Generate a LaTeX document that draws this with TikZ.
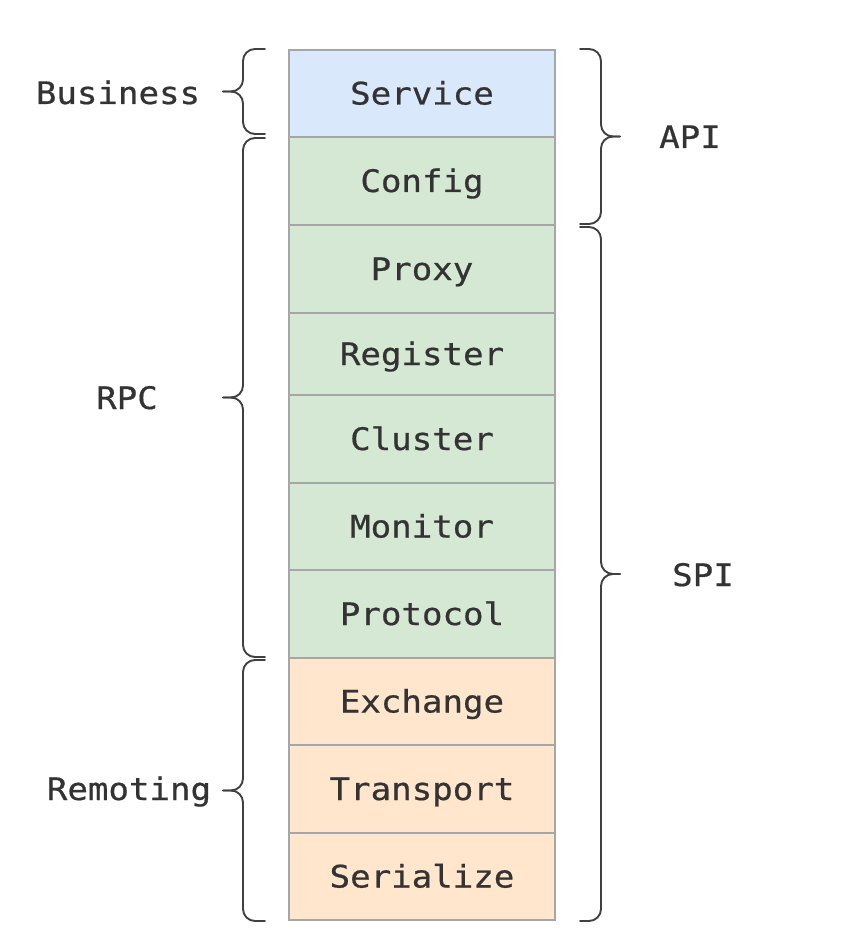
\documentclass[tikz,border=0pt]{standalone}
\usepackage{fontspec}
\newfontfamily\monof[FakeStretch=1.1, FakeBold=0.6]{DejaVu Sans Mono}
\definecolor{bluef}{HTML}{DAE8FC}
\definecolor{greenf}{HTML}{D5E8D4}
\definecolor{orangef}{HTML}{FFE6CC}
\definecolor{rowline}{HTML}{A6A6A6}
\definecolor{txt}{HTML}{333333}
\definecolor{brcol}{HTML}{404040}
\tikzset{
  row/.style={draw=rowline, line width=1.6pt, minimum width=266pt, inner sep=0pt,
    text=txt, font=\monof\fontsize{31}{36}\selectfont, text height=22pt, text depth=0pt},
  lbl/.style={inner sep=0pt, text=txt, font=\monof\fontsize{31}{36}\selectfont,
    text height=22pt, text depth=0pt},
  brc/.style={draw=brcol, line width=1.9pt, rounded corners=12pt, line cap=round}
}
\newcommand\BraceLeft[2]{%
  \draw[brc] (265,#1) -- (243,#1) -- (243,{(#1+#2)/2}) -- (223,{(#1+#2)/2});
  \draw[brc] (223,{(#1+#2)/2}) -- (243,{(#1+#2)/2}) -- (243,#2) -- (265,#2);}
\newcommand\BraceRight[2]{%
  \draw[brc] (580,#1) -- (601,#1) -- (601,{(#1+#2)/2}) -- (620,{(#1+#2)/2});
  \draw[brc] (620,{(#1+#2)/2}) -- (601,{(#1+#2)/2}) -- (601,#2) -- (580,#2);}
\begin{document}
\begin{tikzpicture}[x=1pt, y=-1pt]
\useasboundingbox (0,0) rectangle (861,936);
\foreach \nm/\tx/\ya/\yb/\cl in {
  service/Service/50/137/bluef,
  config/Config/137/225/greenf,
  proxy/Proxy/225/313/greenf,
  register/Register/313/395/greenf,
  cluster/Cluster/395/483/greenf,
  monitor/Monitor/483/570/greenf,
  protocol/Protocol/570/658/greenf,
  exchange/Exchange/658/745/orangef,
  transport/Transport/745/833/orangef,
  serialize/Serialize/833/920/orangef}
{
  \node[row, fill=\cl, minimum height={\yb-\ya}] (\nm) at (422,{(\ya+\yb)/2}) {\tx};
}
% braces
\BraceLeft{49}{134}
\BraceLeft{138}{657}
\BraceLeft{660}{921}
\BraceRight{49}{224}
\BraceRight{227}{921}
% labels
\node[lbl] (business) at (118,93) {Business};
\node[lbl] (rpc) at (127,398) {RPC};
\node[lbl] (remoting) at (129,789) {Remoting};
\node[lbl] (api) at (690,137) {API};
\node[lbl] (spi) at (703,575) {SPI};
\end{tikzpicture}
\end{document}
